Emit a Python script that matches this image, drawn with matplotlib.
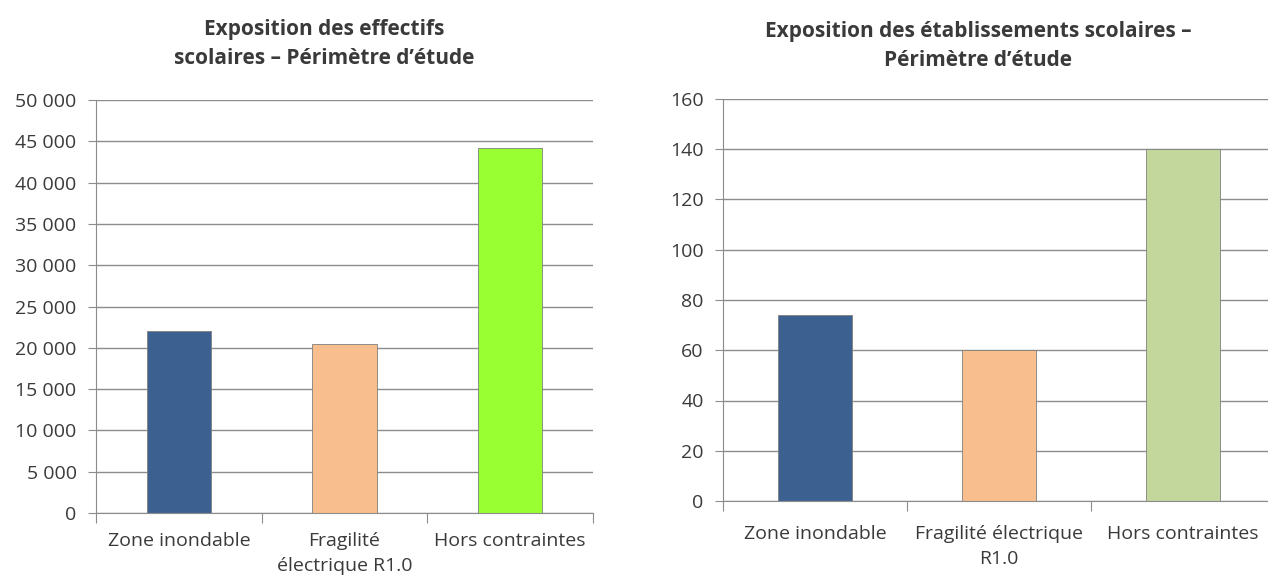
import matplotlib
matplotlib.use("Agg")
import matplotlib.pyplot as plt
from matplotlib.ticker import FuncFormatter

# données
cats_left = ["Zone inondable", "Fragilité\nélectrique R1.0", "Hors contraintes"]
effectifs = [22000, 20400, 44200]
cats_right = ["Zone inondable", "Fragilité électrique\nR1.0", "Hors contraintes"]
etablissements = [74, 60, 140]

colors_left = ["#3c6191", "#f9be8d", "#99ff33"]
colors_right = ["#3c6191", "#f9be8d", "#c3d69b"]

plt.rcParams["font.family"] = ["Open Sans", "DejaVu Sans"]
TXT = "#3a3a3a"
GRID = "#8c8c8c"


def style_axes(ax, ymax, step, labels, xpad):
    ax.set_xlim(-0.5, 2.5)
    ax.set_ylim(0, ymax)
    ax.set_yticks(range(0, ymax + 1, step))
    ax.yaxis.grid(True, color=GRID, linewidth=1.0)
    ax.set_axisbelow(True)
    for s in ["top", "right"]:
        ax.spines[s].set_visible(False)
    for s in ["left", "bottom"]:
        ax.spines[s].set_color(GRID)
    ax.set_xticks([-0.5, 0.5, 1.5, 2.5])
    ax.set_xticklabels([])
    ax.set_xticks([0, 1, 2], minor=True)
    ax.set_xticklabels(labels, minor=True, fontsize=14, color=TXT, linespacing=1.55)
    ax.tick_params(axis="x", which="major", length=7, color=GRID, direction="out")
    ax.tick_params(axis="x", which="minor", length=0, pad=xpad)
    ax.tick_params(axis="y", length=6, color=GRID, labelsize=14, labelcolor=TXT, pad=8)


fig = plt.figure(figsize=(12.68, 5.79), dpi=100)

# effectifs
ax1 = fig.add_axes([96 / 1268, 1 - 513 / 579, 497 / 1268, 413 / 579])
ax1.bar(range(3), effectifs, width=0.39, color=colors_left, edgecolor="#7f7f7f", linewidth=0.6)
style_axes(ax1, 50000, 5000, cats_left, 13.5)
ax1.yaxis.set_major_formatter(FuncFormatter(lambda v, p: f"{int(v):,}".replace(",", " ")))
fig.text(324 / 1268, 1 - 44 / 579, "Exposition des effectifs\nscolaires – Périmètre d’étude",
         ha="center", va="center", fontsize=15, fontweight="bold", color=TXT, linespacing=1.5)

# établissements
ax2 = fig.add_axes([723 / 1268, 1 - 501 / 579, 552 / 1268, 402 / 579])
ax2.bar(range(3), etablissements, width=0.4, color=colors_right, edgecolor="#7f7f7f", linewidth=0.6)
style_axes(ax2, 160, 20, cats_right, 17)
fig.text(978 / 1268, 1 - 46 / 579, "Exposition des établissements scolaires –\nPérimètre d’étude",
         ha="center", va="center", fontsize=15, fontweight="bold", color=TXT, linespacing=1.5)

fig.savefig("out.png", dpi=100)
